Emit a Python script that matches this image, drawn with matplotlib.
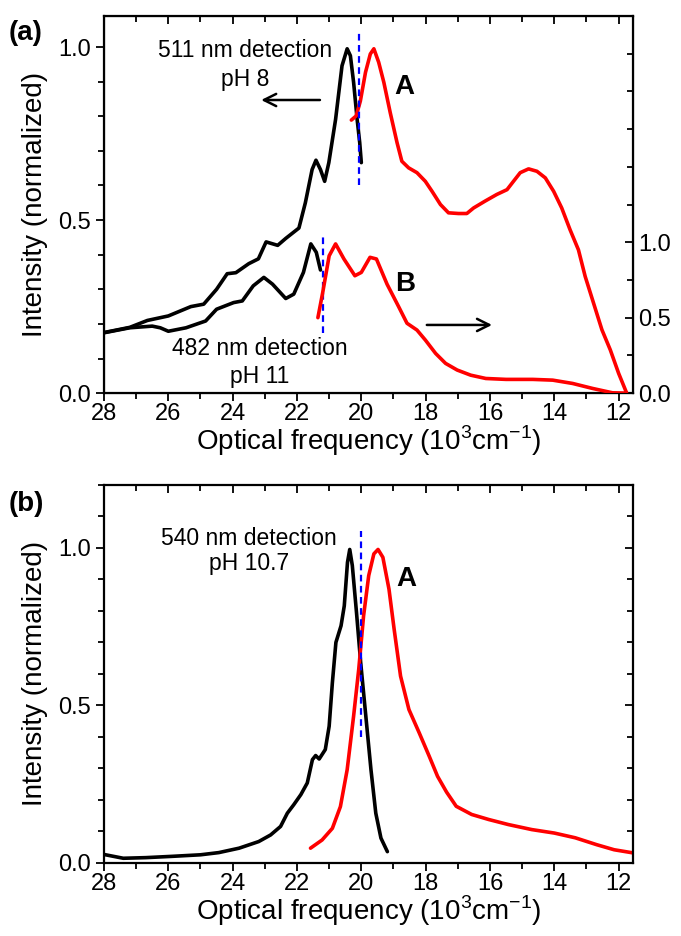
import numpy as np
import matplotlib
matplotlib.use("Agg")
import matplotlib.pyplot as plt
from matplotlib.ticker import MultipleLocator

plt.rcParams['font.family'] = ['Liberation Sans', 'DejaVu Sans']

# panel (a), curve A (511 nm detection, pH 8) - left axis
a_blk_x = [28, 27.2, 26.65, 26.0, 25.3, 24.9, 24.5, 24.17, 23.9, 23.5, 23.2, 22.96, 22.6, 22.35,
           21.94, 21.74, 21.53, 21.41, 21.27, 21.14, 21.01, 20.8, 20.6, 20.44, 20.34, 20.24, 20.13,
           20.05, 20.0]
a_blk_y = [0.175, 0.19, 0.21, 0.223, 0.25, 0.257, 0.30, 0.345, 0.348, 0.374, 0.388, 0.437, 0.427, 0.447,
           0.477, 0.55, 0.646, 0.673, 0.646, 0.612, 0.666, 0.791, 0.946, 0.995, 0.975, 0.898, 0.791,
           0.724, 0.666]
a_red_x = [20.31, 20.16, 20.03, 19.87, 19.72, 19.61, 19.46, 19.3, 19.1, 18.89, 18.74, 18.53, 18.27,
           18.01, 17.8, 17.54, 17.29, 16.98, 16.72, 16.51, 16.15, 15.79, 15.47, 15.27, 15.06, 14.8,
           14.54, 14.28, 14.02, 13.77, 13.51, 13.25, 13.04, 12.78, 12.52, 12.26, 12.0, 11.75]
a_red_y = [0.789, 0.801, 0.844, 0.927, 0.98, 0.995, 0.956, 0.898, 0.81, 0.724, 0.67, 0.651, 0.637,
           0.612, 0.583, 0.545, 0.521, 0.519, 0.519, 0.535, 0.555, 0.574, 0.588, 0.612, 0.637, 0.648,
           0.641, 0.622, 0.583, 0.535, 0.472, 0.414, 0.337, 0.26, 0.183, 0.125, 0.057, 0.0]

# panel (a), curve B (482 nm detection, pH 11) - right axis
b_blk_x = [28, 27.2, 26.5, 26.25, 26.0, 25.45, 24.84, 24.5, 23.97, 23.7, 23.36, 23.03, 22.76, 22.35,
           22.1, 21.8, 21.57, 21.4, 21.27]
b_blk_y = [0.40, 0.433, 0.444, 0.433, 0.41, 0.433, 0.478, 0.556, 0.60, 0.611, 0.711, 0.767, 0.722, 0.627,
           0.656, 0.80, 0.989, 0.933, 0.816]
b_red_x = [21.35, 21.2, 21.0, 20.8, 20.54, 20.2, 20.0, 19.73, 19.53, 19.2, 18.84, 18.58, 18.27, 18.01,
           17.69, 17.38, 17.02, 16.6, 16.13, 15.5, 14.67, 14.05, 13.43, 12.81, 12.19, 11.75]
b_red_y = [0.50, 0.667, 0.91, 0.989, 0.889, 0.778, 0.80, 0.90, 0.889, 0.722, 0.573, 0.463, 0.418, 0.352,
           0.263, 0.197, 0.153, 0.119, 0.097, 0.091, 0.091, 0.086, 0.064, 0.031, 0.002, 0.0]

# panel (b) (540 nm detection, pH 10.7)
c_blk_x = [28, 27.4, 26.7, 25.9, 25.0, 24.43, 23.8, 23.19, 22.82, 22.51, 22.3, 22.1, 21.88, 21.68,
           21.52, 21.42, 21.31, 21.12, 21.0, 20.9, 20.79, 20.63, 20.53, 20.43, 20.36, 20.28, 20.15,
           20.02, 19.86, 19.7, 19.55, 19.39, 19.19]
c_blk_y = [0.027, 0.015, 0.017, 0.021, 0.026, 0.033, 0.047, 0.068, 0.089, 0.116, 0.158, 0.185, 0.217,
           0.254, 0.328, 0.341, 0.33, 0.36, 0.434, 0.572, 0.70, 0.753, 0.816, 0.954, 0.995, 0.944,
           0.795, 0.636, 0.466, 0.296, 0.158, 0.079, 0.036]
c_red_x = [21.58, 21.22, 20.9, 20.65, 20.44, 20.24, 20.08, 19.93, 19.77, 19.61, 19.48, 19.33, 19.14,
           18.98, 18.78, 18.52, 18.2, 17.89, 17.63, 17.35, 17.05, 16.57, 16.04, 15.43, 14.7, 14.0,
           13.35, 12.68, 12.14, 11.55]
c_red_y = [0.047, 0.073, 0.11, 0.179, 0.296, 0.466, 0.615, 0.784, 0.912, 0.981, 0.995, 0.97, 0.869,
           0.742, 0.593, 0.487, 0.413, 0.339, 0.275, 0.225, 0.18, 0.154, 0.138, 0.122, 0.106, 0.095,
           0.08, 0.058, 0.042, 0.032]

xlab = 'Optical frequency (10$^{\\mathregular{3}}$cm$^{\\mathregular{-1}}$)'
ylab = 'Intensity (normalized)'

fig = plt.figure(figsize=(6.81, 9.36), dpi=100)
ax1 = fig.add_axes([0.1527, 0.580, 0.777, 0.403])
ax2 = ax1.twinx()
ax3 = fig.add_axes([0.1527, 0.078, 0.777, 0.404])

lw = 2.6
kw = dict(lw=lw, solid_joinstyle='round', solid_capstyle='round')
ax1.plot(a_blk_x, a_blk_y, color='black', **kw)
ax1.plot(a_red_x, a_red_y, color='red', **kw)
ax2.plot(b_blk_x, b_blk_y, color='black', **kw)
ax2.plot(b_red_x, b_red_y, color='red', **kw)
ax3.plot(c_blk_x, c_blk_y, color='black', **kw)
ax3.plot(c_red_x, c_red_y, color='red', **kw)

# blue dashed markers
ax1.plot([20.08, 20.08], [0.60, 1.04], color='blue', lw=1.6, ls=(0, (3, 2)))
ax1.plot([21.2, 21.2], [0.175, 0.452], color='blue', lw=1.6, ls=(0, (3, 2)))
ax3.plot([20.02, 20.02], [0.40, 1.055], color='blue', lw=1.6, ls=(0, (3, 2)))

for ax in (ax1, ax3):
    ax.set_xlim(28, 11.55)
    ax.xaxis.set_major_locator(MultipleLocator(2))
    ax.xaxis.set_minor_locator(MultipleLocator(1))
    ax.yaxis.set_major_locator(MultipleLocator(0.5))
    ax.yaxis.set_minor_locator(MultipleLocator(0.1))
    ax.set_xlabel(xlab, fontsize=20, labelpad=-1)
    ax.set_ylabel(ylab, fontsize=20, labelpad=7)
    ax.tick_params(which='both', direction='out', labelsize=17, width=1.3, top=True)
    ax.tick_params(axis='x', pad=1)
    ax.tick_params(which='major', length=6)
    ax.tick_params(which='minor', length=4)
    for s in ax.spines.values():
        s.set_linewidth(1.6)
    ax.yaxis.set_major_formatter(plt.FormatStrFormatter('%.1f'))

ax1.set_ylim(0, 1.09)
ax2.set_ylim(0, 2.5)
ax3.set_ylim(0, 1.2)
ax3.tick_params(which='both', right=True)

ax2.yaxis.set_minor_locator(MultipleLocator(0.25))
ax2.set_yticks([0, 0.5, 1.0])
ax2.yaxis.set_major_formatter(plt.FormatStrFormatter('%.1f'))
ax2.tick_params(which='both', direction='in', labelsize=17, width=1.3)
ax2.tick_params(which='major', length=6)
ax2.tick_params(which='minor', length=4)

# top and right ticks point inward
for ax in (ax1, ax3):
    for t in ax.xaxis.get_major_ticks() + ax.xaxis.get_minor_ticks():
        t.tick2line.set_marker(3)
    for t in ax.yaxis.get_major_ticks() + ax.yaxis.get_minor_ticks():
        t.tick2line.set_marker(0)

# annotations
fs = 16.5
ax1.text(23.6, 0.99, '511 nm detection', fontsize=fs, ha='center', va='center')
ax1.text(23.6, 0.905, 'pH 8', fontsize=fs, ha='center', va='center')
ax1.text(18.65, 0.885, 'A', fontsize=20, fontweight='bold', ha='center', va='center')
ax1.text(18.65, 0.315, 'B', fontsize=20, fontweight='bold', ha='center', va='center')
ax1.text(23.15, 0.13, '482 nm detection', fontsize=fs, ha='center', va='center')
ax1.text(23.15, 0.048, 'pH 11', fontsize=fs, ha='center', va='center')
ax1.annotate('', xy=(23.2, 0.847), xytext=(21.2, 0.847),
             arrowprops=dict(arrowstyle='->', color='black', lw=1.8, mutation_scale=22))
ax1.annotate('', xy=(15.85, 0.197), xytext=(18.05, 0.197),
             arrowprops=dict(arrowstyle='->', color='black', lw=1.8, mutation_scale=22))

ax3.text(23.5, 1.03, '540 nm detection', fontsize=fs, ha='center', va='center')
ax3.text(23.5, 0.95, 'pH 10.7', fontsize=fs, ha='center', va='center')
ax3.text(18.6, 0.90, 'A', fontsize=20, fontweight='bold', ha='center', va='center')

fig.text(0.012, 0.965, '(a)', fontsize=20, fontweight='bold', ha='left', va='center')
fig.text(0.012, 0.462, '(b)', fontsize=20, fontweight='bold', ha='left', va='center')

fig.savefig('out.png', dpi=100)
